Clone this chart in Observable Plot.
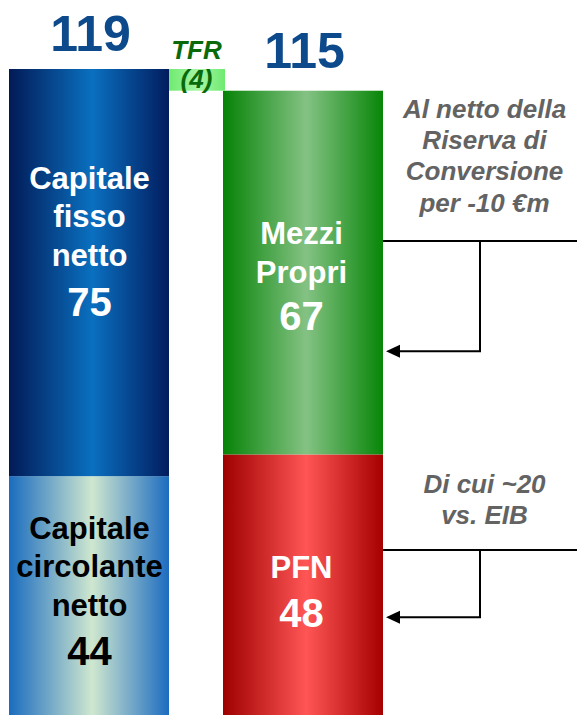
<!DOCTYPE html>
<html>
<head>
<meta charset="utf-8">
<script src="https://cdn.jsdelivr.net/npm/d3@7"></script>
<script src="https://cdn.jsdelivr.net/npm/@observablehq/plot@0.6"></script>
<style>
  html, body { margin: 0; padding: 0; background: #fff; }
  #chart svg { display: block; }
</style>
</head>
<body>
<div id="chart"></div>
<script>
// ---- Data ----
const columns = ["Attivo", "Passivo"];
const segmentColumns = ["Attivo", "Attivo", "Passivo", "Passivo"];          // stack order: bottom first
const segmentNames = ["Capitale circolante netto", "Capitale fisso netto", "PFN", "Mezzi Propri"];
const segmentLines = [["Capitale", "circolante", "netto"], ["Capitale", "fisso", "netto"], ["PFN"], ["Mezzi", "Propri"]];
const segmentValues = [44, 75, 48, 67];
const tfrLabel = "TFR";
const tfrValue = 4;
const noteLines = [["Al netto della", "Riserva di", "Conversione", "per -10 €m"], ["Di cui ~20", "vs. EIB"]];
const noteFrom = [87.3, 30.4];   // level of the leader line (y units)
const noteTo = [67, 18];         // level the arrow points to (y units)

// ---- Styles / layout (not data) ----
const FONT = "'Liberation Sans', Arial, Helvetica, sans-serif";
const gradients = {
  "g-circ":  ["#1a6cbf", "#cfe7cf", "#1d6cc0"],
  "g-fisso": ["#021a56", "#0a70c0", "#021c5e"],
  "g-pfn":   ["#9e0000", "#ff5555", "#a60000"],
  "g-mezzi": ["#068306", "#84c284", "#088608"],
  "g-tfr":   ["#6fea6f", "#a6f6a6", "#6fea6f"]
};
const segmentFill = ["url(#g-circ)", "url(#g-fisso)", "url(#g-pfn)", "url(#g-mezzi)"];
const segmentInk = ["#000", "#fff", "#fff", "#fff"];
const segmentLabelDy = [20, -7, -7, 10];
const segmentNumberDy = [69, 43, 42, 57];
const segmentLabelSize = [31, 31, 31, 31];
const noteDy = [-30, -26];

// ---- Derived table ----
const table = [];
const running = {};
segmentValues.forEach((v, i) => {
  const c = segmentColumns[i];
  const y1 = running[c] ?? 0;
  const y2 = y1 + v;
  running[c] = y2;
  table.push({column: c, name: segmentNames[i], lines: segmentLines[i], value: v, y1, y2, mid: (y1 + y2) / 2, fill: segmentFill[i]});
});
const totals = columns.map(c => ({column: c, total: d3.sum(table.filter(d => d.column === c), d => d.value)}));
const passivoTotal = totals.find(d => d.column === "Passivo").total;
const tfr = [{column: "Passivo", y1: passivoTotal, y2: passivoTotal + tfrValue, label: `${tfrLabel}\n(${tfrValue})`}];
const yMax = d3.max(totals, d => d.total) ;

// connectors drawn with the plot's own scales
function connectors(index, scales, values, dims) {
  const {x, y} = scales;
  const bw = typeof x.bandwidth === "function" ? x.bandwidth() : 160;
  const barRight = x("Passivo") + bw;
  const xv = barRight + 97;
  const g = d3.create("svg:g");
  noteFrom.forEach((v, i) => {
    const y0 = y(v), y1 = y(noteTo[i]);
    g.append("path").attr("d", `M${barRight},${y0}H${dims.width}M${xv},${y0}V${y1}H${barRight + 14}`)
      .attr("fill", "none").attr("stroke", "#000").attr("stroke-width", 2);
    g.append("path").attr("d", `M${barRight + 3},${y1}l14,-6.5v13z`).attr("fill", "#000");
  });
  return g.node();
}

const marks = [
  Plot.barY(table, {x: "column", y1: "y1", y2: "y2", fill: "fill"}),
  Plot.barY(tfr, {x: "column", y1: "y1", y2: "y2", fill: "url(#g-tfr)", insetLeft: -54, insetRight: 158}),
  Plot.text(tfr, {x: "column", y: "y2", text: "label", dx: -107, dy: 18, lineAnchor: "bottom", lineHeight: 1.1,
    fontSize: 26, fontWeight: "bold", fontStyle: "italic", fill: "#0a6a0a"}),
  Plot.text(totals, {x: "column", y: "total", text: d => String(d.total), lineAnchor: "bottom",
    dy: -19, dx: 1, fontSize: 50, fontWeight: "bold", fill: "#0d4a8c", filter: d => d.column === "Attivo"}),
  Plot.text(totals, {x: "column", y: "total", text: d => String(d.total), lineAnchor: "bottom",
    dy: -23, dx: 1, fontSize: 50, fontWeight: "bold", fill: "#0d4a8c", filter: d => d.column === "Passivo"}),
  connectors
];

table.forEach((d, i) => {
  marks.push(Plot.text([d], {x: "column", y: "mid", text: r => r.lines.join("\n"), lineAnchor: "bottom",
    lineHeight: 1.25, dy: segmentLabelDy[i], dx: d.column === "Passivo" ? -2 : 0,
    fontSize: segmentLabelSize[i], fontWeight: "bold", fill: segmentInk[i]}));
  marks.push(Plot.text([d], {x: "column", y: "mid", text: r => String(r.value), lineAnchor: "bottom",
    dy: segmentNumberDy[i], dx: d.column === "Passivo" ? -2 : 0,
    fontSize: 40, fontWeight: "bold", fill: segmentInk[i]}));
});

noteLines.forEach((lines, i) => {
  marks.push(Plot.text([{column: "Passivo", y: noteFrom[i], text: lines.join("\n")}], {
    x: "column", y: "y", text: "text", dx: 181, dy: noteDy[i], lineAnchor: "bottom", lineHeight: 1.2,
    fontSize: 26, fontWeight: "bold", fontStyle: "italic", fill: "#636363"}));
});

const chart = Plot.plot({
  width: 577,
  height: 715,
  marginTop: 0, marginRight: 0, marginBottom: 0, marginLeft: 0,
  x: {domain: columns, range: [9, 383], paddingInner: 54 / 214, paddingOuter: 0, round: false, axis: null},
  y: {domain: [0, yMax], range: [715, 69], axis: null},
  color: {type: "identity"},
  style: {background: "#fff", fontFamily: FONT, overflow: "visible"},
  marks
});

// gradient definitions
const defs = d3.select(chart).insert("defs", ":first-child");
Object.entries(gradients).forEach(([id, [a, b, c]]) => {
  const lg = defs.append("linearGradient").attr("id", id).attr("x1", 0).attr("x2", 1).attr("y1", 0).attr("y2", 0);
  lg.append("stop").attr("offset", "0%").attr("stop-color", a);
  lg.append("stop").attr("offset", "52%").attr("stop-color", b);
  lg.append("stop").attr("offset", "100%").attr("stop-color", c);
});

document.getElementById("chart").appendChild(chart);
</script>
</body>
</html>
